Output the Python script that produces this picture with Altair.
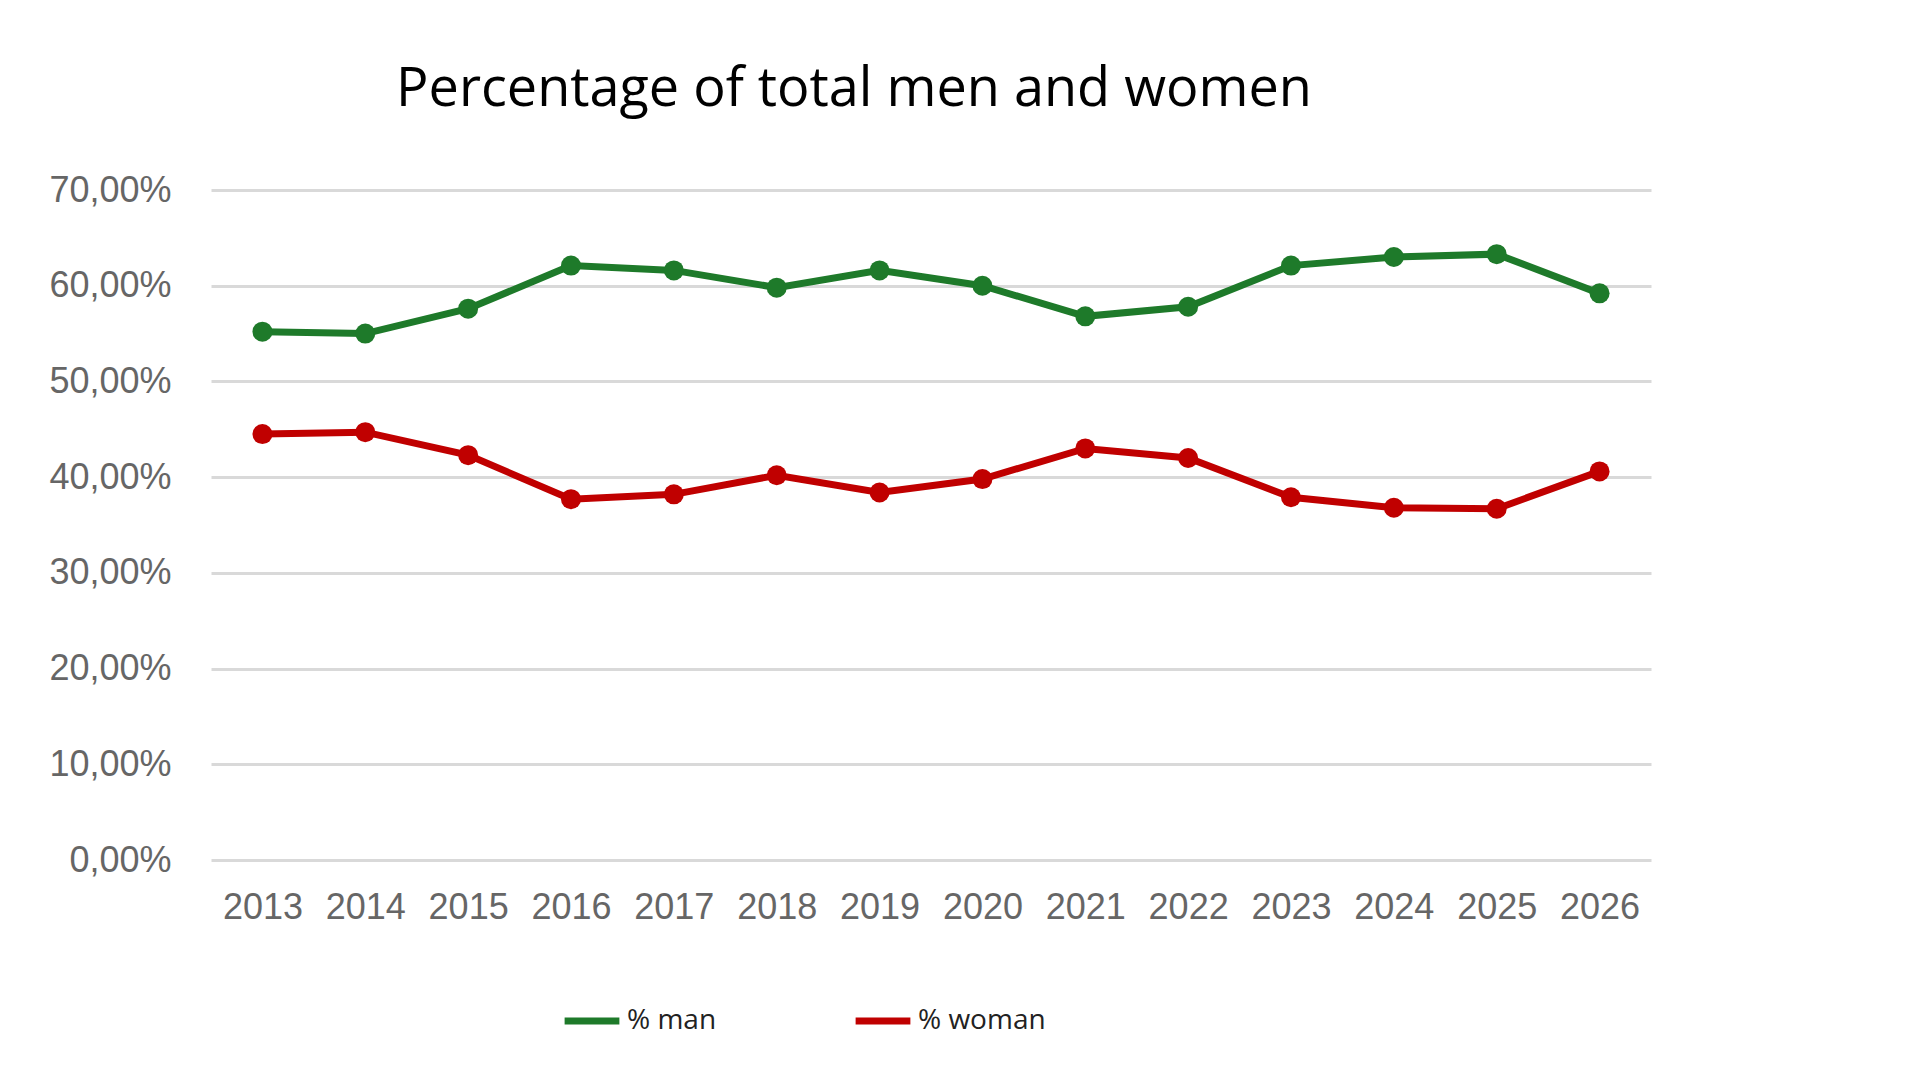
import altair as alt
import pandas as pd

years = [str(y) for y in range(2013, 2027)]
man = [55.2, 55.0, 57.6, 62.1, 61.6, 59.8, 61.6, 60.0, 56.8, 57.8, 62.1, 63.0, 63.3, 59.2]
woman = [44.5, 44.7, 42.3, 37.7, 38.2, 40.2, 38.4, 39.8, 43.0, 42.0, 37.9, 36.8, 36.7, 40.6]

df = pd.concat([
    pd.DataFrame({"year": years, "value": [v / 100 for v in man], "series": "%   man"}),
    pd.DataFrame({"year": years, "value": [v / 100 for v in woman], "series": "%   woman"}),
])

color = alt.Color("series:N",
                  scale=alt.Scale(domain=["%   man", "%   woman"], range=["#1e7a2a", "#c00000"]),
                  legend=alt.Legend(title=None, orient="none", legendX=350, legendY=800,
                                    direction="horizontal",
                                    symbolType="stroke", symbolStrokeWidth=7, symbolSize=3000,
                                    labelFontSize=28, labelColor="#222", columnPadding=110,
                                    labelFont="Open Sans"))

base = alt.Chart(df).encode(
    x=alt.X("year:O", title=None, scale=alt.Scale(type="point", padding=0.5),
            axis=alt.Axis(labelAngle=0, labelFontSize=36, labelColor="#666", ticks=False,
                          domain=False, labelPadding=30, labelFont="Arial")),
    y=alt.Y("value:Q", title=None,
            scale=alt.Scale(domain=[0, 0.7]),
            axis=alt.Axis(values=[i / 10 for i in range(8)],
                          labelExpr="replace(format(datum.value*100, '.2f'), '.', ',') + '%'",
                          labelFontSize=36, labelColor="#666", ticks=False, domain=False,
                          labelPadding=40, gridColor="#d9d9d9", gridWidth=3, labelFont="Arial")),
    color=color,
)

chart = (base.mark_line(strokeWidth=7) + base.mark_circle(size=400, opacity=1)).properties(
    width=1440, height=670,
    title=alt.TitleParams("Percentage of total men and women", fontSize=54, fontWeight="normal",
                          font="Open Sans", color="#000", offset=55, dx=-77),
    padding={"left": 40, "top": 55, "right": 40, "bottom": 40},
).configure_view(stroke=None)

chart.save("out.html", embed_options={"renderer": "svg", "actions": False})
